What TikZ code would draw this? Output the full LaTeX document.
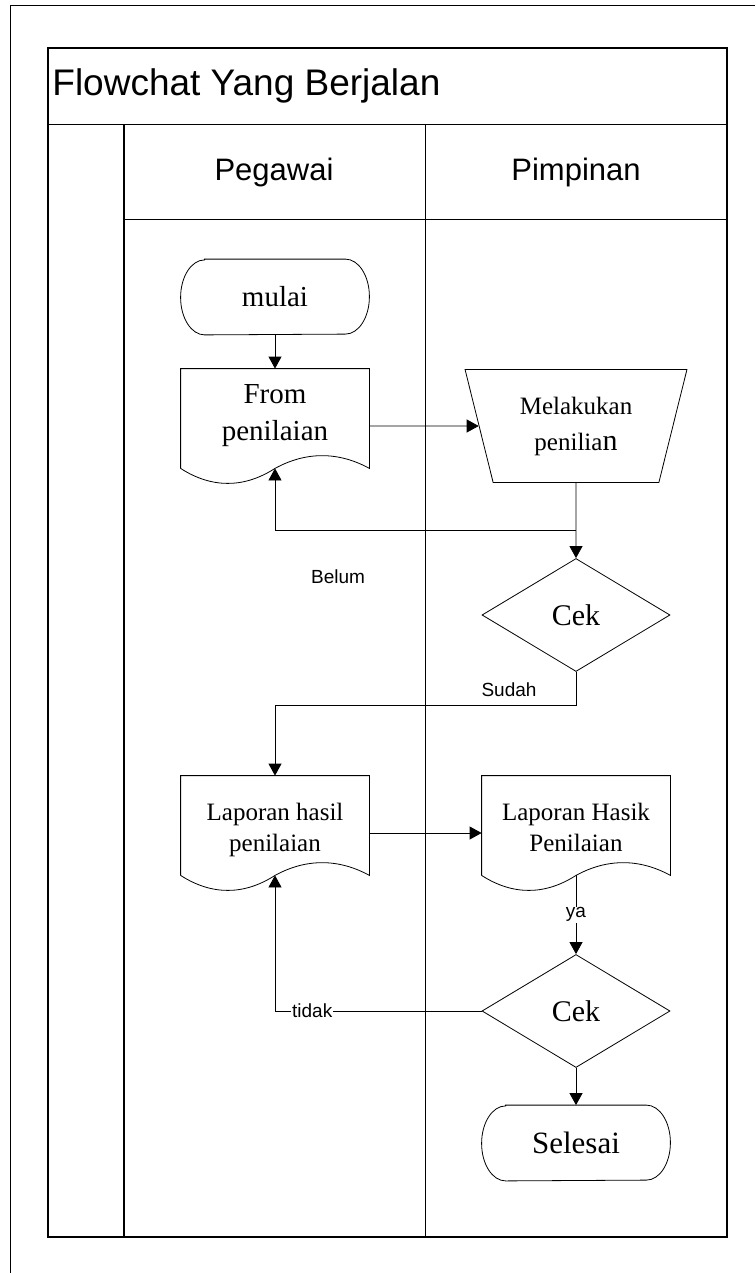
\documentclass[tikz,border=0pt]{standalone}
\usepackage{fontspec}
\setmainfont{Liberation Serif}
\setsansfont{Liberation Sans}
\usetikzlibrary{arrows.meta,shapes.geometric}

% outline of a document symbol round a docnode
\newcommand{\docoutline}[1]{%
  \draw ([yshift=15pt]#1.south west) -- (#1.north west) -- (#1.north east)
    -- ([yshift=15pt]#1.south east)
    .. controls +(-31,-17) and +(31,-17) .. ([yshift=15pt]#1.south)
    .. controls +(-31,20) and +(31,20) .. ([yshift=15pt]#1.south west);
  \coordinate (#1-w) at ([yshift=15pt]#1.south);}
% outline of a start/end symbol with oval ends
\newcommand{\termoutline}[1]{%
  \draw ([xshift=24pt]#1.north west) -- ([xshift=-24pt]#1.north east)
    arc[start angle=90,end angle=-90,x radius=24pt,y radius=37.5pt]
    -- ([xshift=24pt]#1.south west)
    arc[start angle=270,end angle=90,x radius=24pt,y radius=37.5pt] -- cycle;}

\begin{document}
\begin{tikzpicture}
  [x=1pt,y=-1pt,line width=0.8pt,
   arr/.style={-{Triangle[length=12pt,width=13pt]}},
   term/.style={rectangle,minimum width=188pt,minimum height=75pt},
   docnode/.style={rectangle,minimum width=188pt,minimum height=114pt,inner sep=0pt,align=center,text depth=12pt},
   proc/.style={draw,trapezium,trapezium angle=72,shape border rotate=180,trapezium stretches=true,
     minimum width=222pt,minimum height=113pt,inner sep=0pt,align=center},
   cekbox/.style={draw,diamond,minimum width=188pt,minimum height=113pt,inner sep=0pt,
     font=\fontsize{30}{36}\selectfont},
   lbl/.style={font=\sffamily\fontsize{19}{22}\selectfont,inner sep=1pt},
   head/.style={font=\sffamily\fontsize{31}{36}\selectfont}]
  \useasboundingbox (0,0) rectangle (755,1273);

  % frame and swimlanes
  \draw (10,1273) -- (10,5) -- (755,5);
  \draw[line width=1.5pt] (48,48) rectangle (727,1237);
  \draw (48,124) -- (727,124);
  \draw[line width=1.5pt] (124,124) -- (124,1237);
  \draw (124,219) -- (727,219);
  \draw (425,124) -- (425,1237);

  \node[anchor=west,inner sep=0pt,font=\sffamily\fontsize{37}{44}\selectfont] (title) at (52,86) {Flowchat Yang Berjalan};
  \node[head] (pegawai) at (274,172) {Pegawai};
  \node[head] (pimpinan) at (576,172) {Pimpinan};

  % symbols
  \node[term,font=\fontsize{29}{35}\selectfont] (mulai) at (275,297) {mulai};
  \node[docnode,font=\fontsize{29}{37}\selectfont,text depth=27pt] (doc1) at (275,426) {From\\penilaian};
  \node[proc,font=\fontsize{25}{36}\selectfont] (trap) at (576,426) {Melakukan\\penilia{\fontsize{30}{36}\selectfont n}};
  \node[cekbox] (cek1) at (576,615) {Cek};
  \node[docnode,font=\fontsize{25}{31}\selectfont] (doc2) at (275,833) {Laporan hasil\\penilaian};
  \node[docnode,font=\fontsize{25}{31}\selectfont] (doc3) at (576,833) {Laporan Hasik\\Penilaian};
  \node[cekbox] (cek2) at (576,1011) {Cek};
  \node[term,font=\fontsize{31}{36}\selectfont] (selesai) at (576,1143) {Selesai};
  \termoutline{mulai}
  \termoutline{selesai}
  \docoutline{doc1}
  \docoutline{doc2}
  \docoutline{doc3}

  \foreach \from/\to in {mulai/doc1,doc1/trap,trap/cek1,doc2/doc3,cek2/selesai}
    \draw[arr] (\from) -- (\to);

  % loops back
  \coordinate (j1) at (576,530);
  \draw[arr] (j1) -| (doc1-w);
  \node[lbl] (belum) at (338,577) {Belum};
  \draw[arr] (cek1.south) -- ++(0,33) -| (doc2.north);
  \node[lbl] (sudah) at (509,690) {Sudah};
  \draw[arr] (doc3-w) -- node[lbl,fill=white] (ya) {ya} (cek2.north);
  \draw[arr] (cek2.west) -| node[lbl,fill=white,pos=0.41] (tidak) {tidak} (doc2-w);
\end{tikzpicture}
\end{document}
